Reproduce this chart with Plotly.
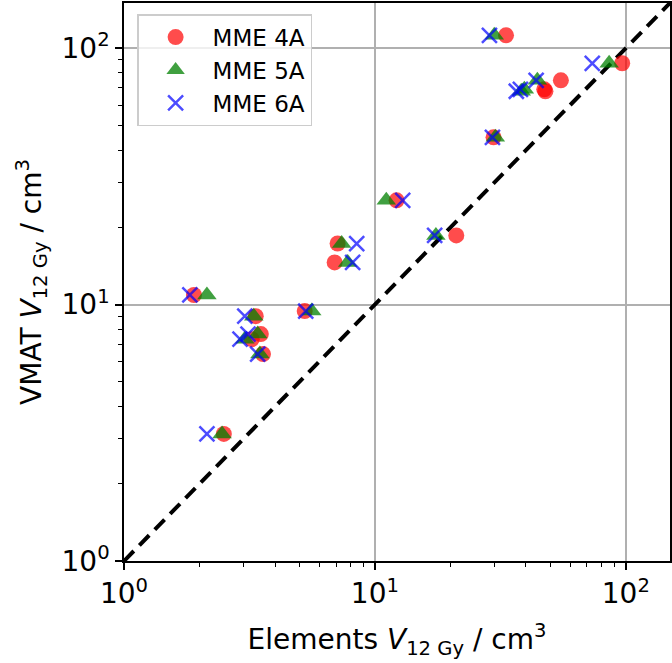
import plotly.graph_objects as go

# VMAT V12Gy per patient (shared by all three MME settings)
vmat_v12 = [112.2, 87.3, 74.9, 69.1, 67.9, 44.9, 25.5, 18.6, 17.3, 14.6,
            10.9, 9.43, 9.01, 7.67, 7.33, 6.41, 3.13]

# Elements V12Gy per patient for each setting
elem_4a = [33.3, 96.7, 55.1, 47.3, 47.8, 29.7, 12.2, 21.1, 7.10, 6.91,
           1.90, 5.25, 3.35, 3.51, 3.23, 3.58, 2.50]
elem_5a = [29.9, 85.8, 44.4, 39.4, 38.3, 30.2, 11.1, 17.5, 7.37, 7.79,
           2.14, 5.60, 3.29, 3.41, 3.03, 3.48, 2.46]
elem_6a = [28.6, 73.5, 43.9, 38.0, 36.6, 29.4, 12.9, 17.3, 8.46, 8.15,
           1.83, 5.30, 3.03, 3.12, 2.90, 3.41, 2.14]

diag = [1, 150]
decades = [1, 10, 100]
decade_text = ["10<sup>0</sup>", "10<sup>1</sup>", "10<sup>2</sup>"]

FONT = "DejaVu Sans"
BLUE = "rgba(0,0,255,0.7)"

fig = go.Figure()

fig.add_trace(go.Scatter(
    x=diag, y=diag, mode="lines", showlegend=False,
    line=dict(color="black", width=4, dash="14px,8px"),
    hoverinfo="skip",
))
fig.add_trace(go.Scatter(
    x=elem_4a, y=vmat_v12, mode="markers", name="MME 4A",
    marker=dict(symbol="circle", size=16, color="rgba(255,0,0,0.7)",
                line=dict(width=0)),
))
fig.add_trace(go.Scatter(
    x=elem_5a, y=vmat_v12, mode="markers", name="MME 5A",
    marker=dict(symbol="triangle-up", size=17, color="rgba(0,128,0,0.75)",
                line=dict(width=0)),
))
fig.add_trace(go.Scatter(
    x=elem_6a, y=vmat_v12, mode="markers", name="MME 6A",
    marker=dict(symbol="x-thin-open", size=15, color=BLUE,
                line=dict(width=2.5, color=BLUE)),
))

axis_common = dict(
    type="log",
    range=[0, 2.176],
    tickvals=decades,
    ticktext=decade_text,
    ticks="outside",
    ticklen=7,
    tickwidth=1.5,
    tickcolor="black",
    showline=True,
    linecolor="black",
    linewidth=1.5,
    mirror=True,
    showgrid=True,
    gridcolor="#b0b0b0",
    gridwidth=1.5,
    zeroline=False,
    automargin=False,
    tickfont=dict(family=FONT, size=28, color="black"),
    minor=dict(ticks="outside", ticklen=4, tickwidth=1.2, tickcolor="black",
               dtick="D1", showgrid=False),
)

fig.update_layout(
    width=672,
    height=663,
    paper_bgcolor="white",
    plot_bgcolor="white",
    font=dict(family=FONT, size=28, color="black"),
    margin=dict(l=124, r=2, t=3, b=102),
    xaxis=dict(axis_common,
               title=dict(text="Elements <i>V</i><sub>12 Gy</sub> / cm<sup>3</sup>",
                          font=dict(family=FONT, size=28), standoff=20)),
    yaxis=dict(axis_common,
               title=dict(text="VMAT <i>V</i><sub>12 Gy</sub> / cm<sup>3</sup>",
                          font=dict(family=FONT, size=28), standoff=12)),
    legend=dict(
        x=0.024, y=0.98, xanchor="left", yanchor="top",
        bgcolor="rgba(255,255,255,0.8)",
        bordercolor="#cccccc", borderwidth=1.5,
        font=dict(family=FONT, size=23),
        itemwidth=64,
    ),
)

# page body has a default 8px margin; drop it so the figure fills the window
fig.write_html("out.html", config={"displayModeBar": False},
               post_script="document.body.style.margin='0';")
